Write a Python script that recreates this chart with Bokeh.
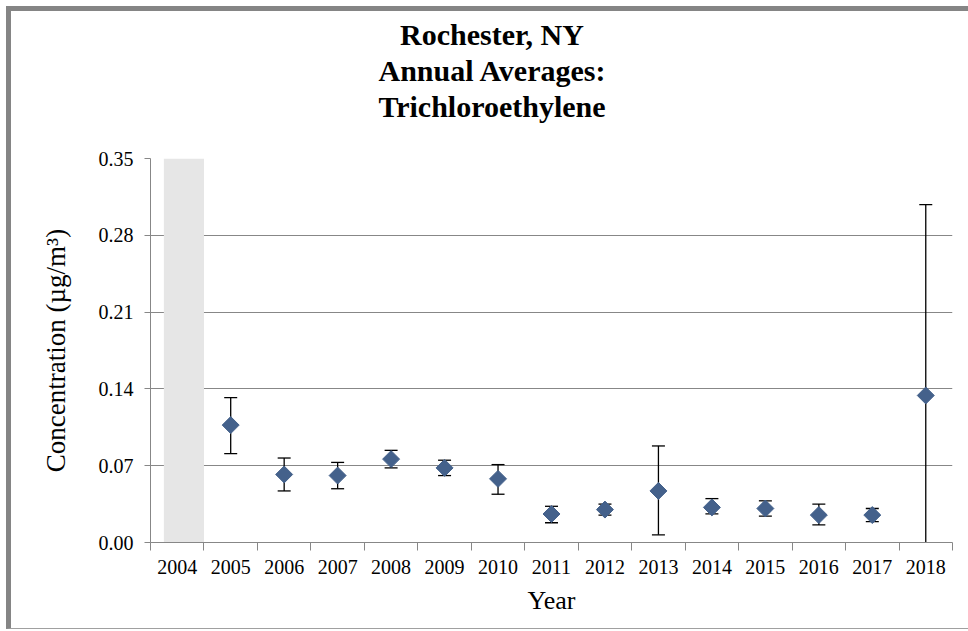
import math

from bokeh.embed import file_html
from bokeh.layouts import column
from bokeh.models import ColumnDataSource, Div, FixedTicker, NumeralTickFormatter, Range1d
from bokeh.plotting import figure
from bokeh.resources import INLINE

nan = float("nan")

years = ["2004", "2005", "2006", "2007", "2008", "2009", "2010", "2011",
         "2012", "2013", "2014", "2015", "2016", "2017", "2018"]
# annual means (µg/m3), no data for 2004
means = [nan, 0.107, 0.062, 0.061, 0.076, 0.068, 0.058, 0.026,
         0.030, 0.047, 0.032, 0.031, 0.025, 0.025, 0.134]
upper = [nan, 0.132, 0.077, 0.073, 0.084, 0.075, 0.071, 0.033,
         0.035, 0.088, 0.040, 0.038, 0.035, 0.031, 0.308]
# 2018 lower bound falls below zero and is cut off by the axis
lower = [nan, 0.081, 0.047, 0.049, 0.068, 0.061, 0.044, 0.018,
         0.025, 0.007, 0.026, 0.024, 0.016, 0.019, -0.04]
no_data_years = ["2004"]
y_ticks = [0.0, 0.07, 0.14, 0.21, 0.28, 0.35]

title_lines = ["Rochester, NY", "Annual Averages:", "Trichloroethylene"]
serif = "Liberation Serif"
gray = "#878787"
marker_color = "#44618b"

# one slot per year, centred at i + 0.5
pos = [i + 0.5 for i in range(len(years))]
src = ColumnDataSource(dict(x=pos, mean=means, upper=upper, lower=lower))

# title centred over the whole chart, not the plot frame
title = Div(width=952, height=120,
            text='<div style="width:952px; text-align:center; font-family:\'Liberation Serif\'; '
                 'font-size:30px; font-weight:bold; line-height:36px; padding-top:1px; color:black;">'
                 + "<br>".join(title_lines) + "</div>")

p = figure(width=952, height=487, output_backend="svg", toolbar_location=None,
           x_range=Range1d(0, len(years)), y_range=Range1d(y_ticks[0], y_ticks[-1]),
           min_border_left=139, min_border_right=11, min_border_top=17, min_border_bottom=86)
p.outline_line_color = None
p.background_fill_color = "white"
p.border_fill_color = "white"

# shaded band marking the year without data
band_idx = [years.index(y) for y in no_data_years]
p.quad(left=[i + 0.25 for i in band_idx], right=[i + 1.0 for i in band_idx],
       bottom=y_ticks[0], top=y_ticks[-1], fill_color="#e6e6e6", line_color=None)

# error bars
p.segment(x0="x", y0="lower", x1="x", y1="upper", source=src, line_color="black", line_width=1.3)
p.scatter(x="x", y="upper", source=src, marker="dash", size=13, line_color="black", line_width=1.3)
p.scatter(x="x", y="lower", source=src, marker="dash", size=13, line_color="black", line_width=1.3)

# diamonds
p.scatter(x="x", y="mean", source=src, marker="square", angle=math.pi / 4, size=12,
          fill_color=marker_color, line_color=marker_color)

# x axis: labels centred in slots, tick marks on slot edges
p.xaxis.ticker = FixedTicker(ticks=pos, minor_ticks=list(range(len(years) + 1)))
p.xaxis.major_label_overrides = {x: y for x, y in zip(pos, years)}
p.xaxis.major_tick_line_color = None
p.xaxis.major_tick_in = 0
p.xaxis.major_tick_out = 8
p.xaxis.minor_tick_in = 0
p.xaxis.minor_tick_out = 8
p.xaxis.minor_tick_line_color = gray
p.xaxis.axis_line_color = gray
p.xaxis.major_label_standoff = 9
p.xaxis.axis_label = "Year"
p.xaxis.axis_label_standoff = 9
p.xgrid.grid_line_color = None

p.yaxis.ticker = FixedTicker(ticks=y_ticks)
p.yaxis.formatter = NumeralTickFormatter(format="0.00")
p.yaxis.major_tick_in = 0
p.yaxis.major_tick_out = 6
p.yaxis.minor_tick_line_color = None
p.yaxis.major_tick_line_color = gray
p.yaxis.axis_line_color = gray
p.yaxis.major_label_standoff = 11
p.yaxis.axis_label = "Concentration (µg/m³)"
p.yaxis.axis_label_standoff = 25
p.ygrid.grid_line_color = gray
p.ygrid.grid_line_width = 1

for ax in (p.xaxis, p.yaxis):
    ax.major_label_text_font = serif
    ax.major_label_text_font_size = "20px"
    ax.major_label_text_color = "black"
    ax.axis_label_text_font = serif
    ax.axis_label_text_font_style = "normal"
    ax.axis_label_text_color = "black"
p.xaxis.axis_label_text_font_size = "26px"
p.yaxis.axis_label_text_font_size = "27px"

layout = column(title, p, styles={"margin-left": "6px", "margin-top": "6px",
                                  "border-left": "5px solid #858585",
                                  "border-top": "5px solid #858585",
                                  "border-bottom": "1px solid #a0a0a0",
                                  "background-color": "white"})

open("out.html", "w").write(file_html(layout, INLINE))
